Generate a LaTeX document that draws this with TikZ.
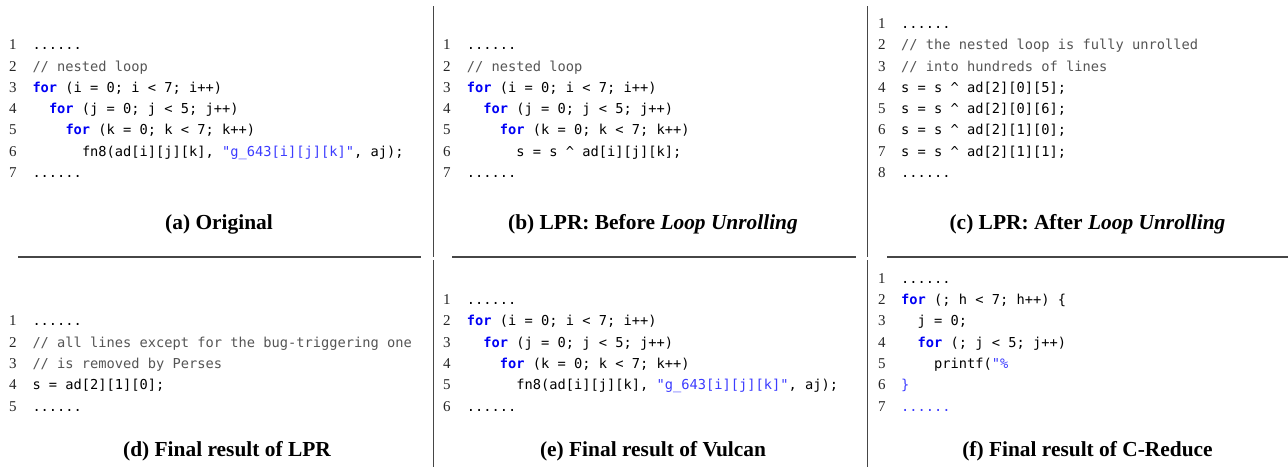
\documentclass[tikz,border=0pt]{standalone}
\usepackage{fontspec}
\setmainfont{Liberation Serif}
\setmonofont{DejaVu Sans Mono}
\definecolor{kw}{RGB}{0,0,245}
\definecolor{strc}{RGB}{60,60,255}
\definecolor{cmt}{RGB}{85,85,85}
\definecolor{rulec}{RGB}{70,70,70}
\newcommand{\kwd}[1]{\textcolor{kw}{\bfseries #1}}
\newcommand{\strg}[1]{\textcolor{strc}{#1}}
\newcommand{\cmtx}[1]{\textcolor{cmt}{#1}}
\begin{document}
\begin{tikzpicture}[x=1pt,y=-1pt,
  code/.style={anchor=base west,inner sep=0pt,font=\ttfamily\fontsize{13.7}{16}\selectfont},
  lnum/.style={anchor=base west,inner sep=0pt,font=\fontsize{15}{16}\selectfont,text=black!85},
  capt/.style={anchor=base,inner sep=0pt,font=\bfseries\fontsize{21.4}{24}\selectfont},
  sep/.style={draw=rulec,line width=1.1pt}]
\useasboundingbox[fill=white] (0,0) rectangle (1288,467);
% separators
\draw[sep] (433.3,6) -- (433.3,256.7);
\draw[sep] (433.3,260) -- (433.3,467);
\draw[sep] (867.7,6) -- (867.7,256.7);
\draw[sep] (867.7,260) -- (867.7,467);
\draw[sep] (18,257) -- (421,257);
\draw[sep] (452,257) -- (856,257);
\draw[sep] (887,257) -- (1288,257);
% (a)
\node[lnum] (an1) at (9,49.7) {1};
\node[lnum] (an2) at (9,71.0) {2};
\node[lnum] (an3) at (9,92.3) {3};
\node[lnum] (an4) at (9,113.6) {4};
\node[lnum] (an5) at (9,134.9) {5};
\node[lnum] (an6) at (9,156.2) {6};
\node[lnum] (an7) at (9,177.5) {7};
\node[code] (a1) at (32.3,49.7) {......};
\node[code] (a2) at (32.3,71.0) {\cmtx{// nested loop}};
\node[code] (a3) at (32.3,92.3) {\kwd{for} (i = 0; i < 7; i++)};
\node[code] (a4) at (48.8,113.6) {\kwd{for} (j = 0; j < 5; j++)};
\node[code] (a5) at (65.3,134.9) {\kwd{for} (k = 0; k < 7; k++)};
\node[code] (a6) at (81.8,156.2) {fn8(ad[i][j][k], \strg{"g\_643[i][j][k]"}, aj);};
\node[code] (a7) at (32.3,177.5) {......};
\node[capt] (ca) at (219,229) {(a) Original};
% (b)
\node[lnum] (bn1) at (443,49.7) {1};
\node[lnum] (bn2) at (443,71.0) {2};
\node[lnum] (bn3) at (443,92.3) {3};
\node[lnum] (bn4) at (443,113.6) {4};
\node[lnum] (bn5) at (443,134.9) {5};
\node[lnum] (bn6) at (443,156.2) {6};
\node[lnum] (bn7) at (443,177.5) {7};
\node[code] (b1) at (466.7,49.7) {......};
\node[code] (b2) at (466.7,71.0) {\cmtx{// nested loop}};
\node[code] (b3) at (466.7,92.3) {\kwd{for} (i = 0; i < 7; i++)};
\node[code] (b4) at (483.2,113.6) {\kwd{for} (j = 0; j < 5; j++)};
\node[code] (b5) at (499.7,134.9) {\kwd{for} (k = 0; k < 7; k++)};
\node[code] (b6) at (516.2,156.2) {s = s \textasciicircum{} ad[i][j][k];};
\node[code] (b7) at (466.7,177.5) {......};
\node[capt] (cb) at (653,229) {(b) LPR: Before \textit{Loop Unrolling}};
% (c)
\node[lnum] (cn1) at (878,28.4) {1};
\node[lnum] (cn2) at (878,49.7) {2};
\node[lnum] (cn3) at (878,71.0) {3};
\node[lnum] (cn4) at (878,92.3) {4};
\node[lnum] (cn5) at (878,113.6) {5};
\node[lnum] (cn6) at (878,134.9) {6};
\node[lnum] (cn7) at (878,156.2) {7};
\node[lnum] (cn8) at (878,177.5) {8};
\node[code] (c1) at (901,28.4) {......};
\node[code] (c2) at (901,49.7) {\cmtx{// the nested loop is fully unrolled}};
\node[code] (c3) at (901,71.0) {\cmtx{// into hundreds of lines}};
\node[code] (c4) at (901,92.3) {s = s \textasciicircum{} ad[2][0][5];};
\node[code] (c5) at (901,113.6) {s = s \textasciicircum{} ad[2][0][6];};
\node[code] (c6) at (901,134.9) {s = s \textasciicircum{} ad[2][1][0];};
\node[code] (c7) at (901,156.2) {s = s \textasciicircum{} ad[2][1][1];};
\node[code] (c8) at (901,177.5) {......};
\node[capt] (cc) at (1087.5,229) {(c) LPR: After \textit{Loop Unrolling}};
% (d)
\node[lnum] (dn1) at (9,325.8) {1};
\node[lnum] (dn2) at (9,347.1) {2};
\node[lnum] (dn3) at (9,368.4) {3};
\node[lnum] (dn4) at (9,389.7) {4};
\node[lnum] (dn5) at (9,411.0) {5};
\node[code] (d1) at (32.3,325.8) {......};
\node[code] (d2) at (32.3,347.1) {\cmtx{// all lines except for the bug-triggering one}};
\node[code] (d3) at (32.3,368.4) {\cmtx{// is removed by Perses}};
\node[code] (d4) at (32.3,389.7) {s = ad[2][1][0];};
\node[code] (d5) at (32.3,411.0) {......};
\node[capt] (cd) at (227,456) {(d) Final result of LPR};
% (e)
\node[lnum] (en1) at (443,304.5) {1};
\node[lnum] (en2) at (443,325.8) {2};
\node[lnum] (en3) at (443,347.1) {3};
\node[lnum] (en4) at (443,368.4) {4};
\node[lnum] (en5) at (443,389.7) {5};
\node[lnum] (en6) at (443,411.0) {6};
\node[code] (e1) at (466.7,304.5) {......};
\node[code] (e2) at (466.7,325.8) {\kwd{for} (i = 0; i < 7; i++)};
\node[code] (e3) at (483.2,347.1) {\kwd{for} (j = 0; j < 5; j++)};
\node[code] (e4) at (499.7,368.4) {\kwd{for} (k = 0; k < 7; k++)};
\node[code] (e5) at (516.2,389.7) {fn8(ad[i][j][k], \strg{"g\_643[i][j][k]"}, aj);};
\node[code] (e6) at (466.7,411.0) {......};
\node[capt] (ce) at (653,456) {(e) Final result of Vulcan};
% (f)
\node[lnum] (fn1) at (878,283.2) {1};
\node[lnum] (fn2) at (878,304.5) {2};
\node[lnum] (fn3) at (878,325.8) {3};
\node[lnum] (fn4) at (878,347.1) {4};
\node[lnum] (fn5) at (878,368.4) {5};
\node[lnum] (fn6) at (878,389.7) {6};
\node[lnum] (fn7) at (878,411.0) {7};
\node[code] (f1) at (901,283.2) {......};
\node[code] (f2) at (901,304.5) {\kwd{for} (; h < 7; h++) \{};
\node[code] (f3) at (917.5,325.8) {j = 0;};
\node[code] (f4) at (917.5,347.1) {\kwd{for} (; j < 5; j++)};
\node[code] (f5) at (934,368.4) {printf(\strg{"\%}};
\node[code] (f6) at (901,389.7) {\strg{\}}};
\node[code] (f7) at (901,411.0) {\strg{......}};
\node[capt] (cf) at (1087.5,456) {(f) Final result of C-Reduce};
\end{tikzpicture}
\end{document}
